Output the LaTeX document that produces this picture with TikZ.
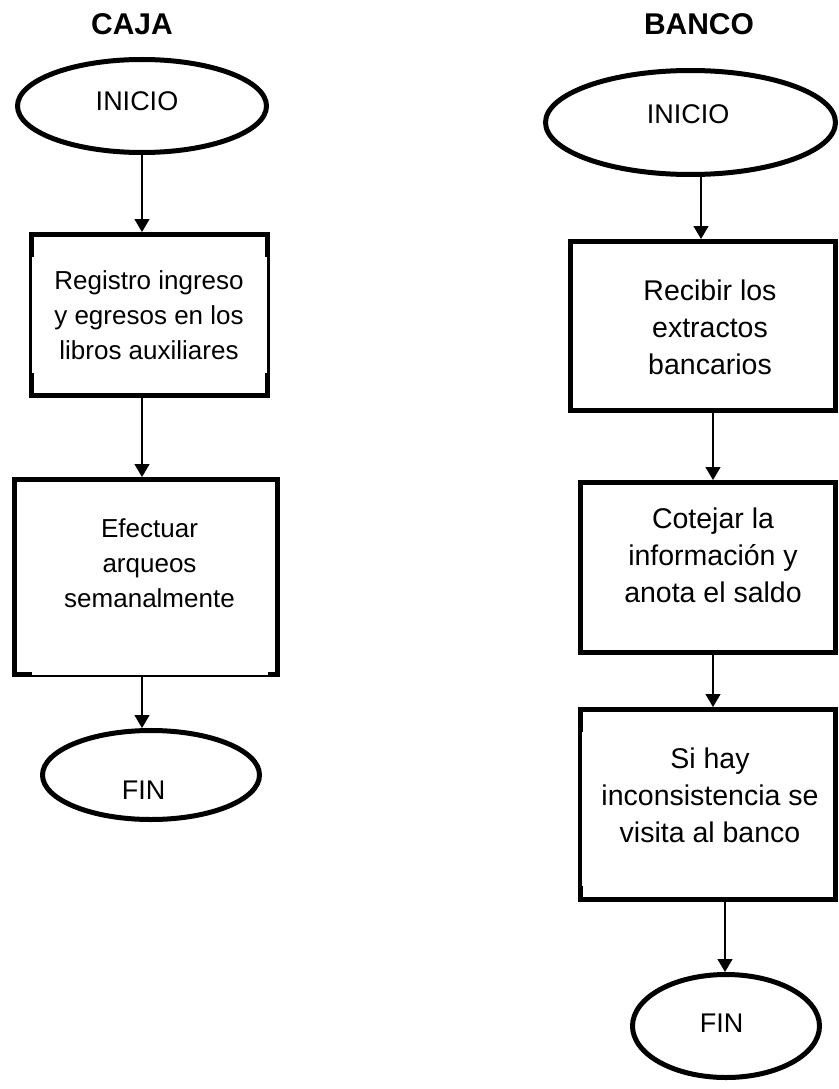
\documentclass[tikz,border=0pt]{standalone}
\usepackage{fontspec}
\setmainfont{Liberation Sans}
\usetikzlibrary{shapes.geometric,arrows.meta}

\tikzset{
  title/.style={font=\fontsize{30}{36}\selectfont\bfseries, inner sep=0pt},
  term/.style={ellipse, draw, line width=5pt, inner sep=0pt},
  termtext/.style={font=\fontsize{27}{32}\selectfont, inner sep=0pt},
  procbox/.style={rectangle, draw, line width=5pt, inner sep=0pt},
  lefttext/.style={font=\fontsize{26}{35}\selectfont, align=center, inner sep=0pt},
  righttext/.style={font=\fontsize{28.5}{37}\selectfont, align=center, inner sep=0pt},
  notch/.style={fill=white},
  arr/.style={line width=1.3pt, -{Triangle[width=15pt,length=13pt]}}
}

\begin{document}
\begin{tikzpicture}[x=1pt,y=-1pt]
\useasboundingbox (0,0) rectangle (838,1089);
\fill[white] (0,0) rectangle (838,1089);

% ---- CAJA column ----
\node[title] (tcaja) at (132,24) {CAJA};
\node[term, minimum width=249pt, minimum height=93pt] (ini1) at (142,106) {};
\node[termtext] (ini1t) at (137,101) {INICIO};

\node[procbox, minimum width=236pt, minimum height=161pt] (b1) at (149.5,315) {};
% thinner side strokes between the corner blocks
\fill[notch] (32.2,257) rectangle (34,373);
\fill[notch] (265,257) rectangle (266.8,373);
\node[lefttext] (b1t) at (149,315) {Registro ingreso\\y egresos en los\\libros auxiliares};

\node[procbox, minimum width=263pt, minimum height=195pt] (b2) at (146,577) {};
% thinner bottom stroke between the corner blocks
\fill[notch] (32,672) rectangle (268,674.5);
\node[lefttext] (b2t) at (149.5,563) {Efectuar\\arqueos\\semanalmente};

\node[term, minimum width=217pt, minimum height=89pt] (fin1) at (151,775) {};
\node[termtext] (fin1t) at (143.5,790) {FIN};

\coordinate (lx) at (142,0);
\draw[arr] (ini1.south -| lx) -- (b1.north -| lx);
\draw[arr] (b1.south -| lx) -- (b2.north -| lx);
\draw[arr] (b2.south -| lx) -- (fin1.north -| lx);

% ---- BANCO column ----
\node[title] (tbanco) at (699,24) {BANCO};
\node[term, minimum width=290pt, minimum height=104pt] (ini2) at (690.5,122.5) {};
\node[termtext] (ini2t) at (688,114) {INICIO};

\node[procbox, minimum width=265pt, minimum height=169pt] (b3) at (703,326) {};
\node[righttext] (b3t) at (710,327) {Recibir los\\extractos\\bancarios};

\node[procbox, minimum width=255pt, minimum height=170pt] (b4) at (708,567.5) {};
\node[righttext] (b4t) at (713,555) {Cotejar la\\información y\\anota el saldo};

\node[procbox, minimum width=255pt, minimum height=190pt] (b5) at (708,804.5) {};
% thinner left stroke between the corner blocks
\fill[notch] (581.5,732) rectangle (583,886);
\node[righttext] (b5t) at (710,795) {Si hay\\inconsistencia se\\visita al banco};

\node[term, minimum width=187pt, minimum height=103pt] (fin2) at (726,1026) {};
\node[termtext] (fin2t) at (721.5,1023) {FIN};

\coordinate (rx1) at (701,0);
\coordinate (rx2) at (713,0);
\coordinate (rx3) at (725,0);
\draw[arr] (ini2.south -| rx1) -- (b3.north -| rx1);
\draw[arr] (b3.south -| rx2) -- (b4.north -| rx2);
\draw[arr] (b4.south -| rx2) -- (b5.north -| rx2);
\draw[arr] (b5.south -| rx3) -- (fin2.north -| rx3);
\end{tikzpicture}
\end{document}
